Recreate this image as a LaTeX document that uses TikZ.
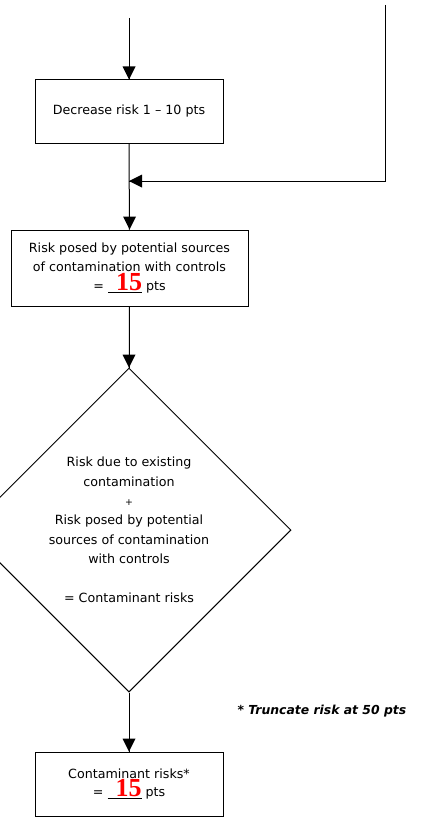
\documentclass[tikz,border=0pt]{standalone}
\usepackage{fontspec}
\setmainfont{DejaVu Sans}
\newfontfamily\numfont{Liberation Serif}
\usetikzlibrary{shapes.geometric}

\tikzset{every picture/.style={line width=0.75pt}}
\tikzset{
  stepbox/.style={draw, rectangle, inner sep=0pt, align=center, font=\fontsize{9.5}{14}\selectfont},
  decision/.style={draw, diamond, inner sep=0pt, minimum width=243pt, minimum height=243pt, align=center, font=\fontsize{9.5}{14.6}\selectfont},
  note/.style={anchor=west, inner sep=0.75pt, font=\fontsize{9.3}{11}\selectfont\bfseries\itshape}
}
\newcommand{\ptsval}{= \underline{\makebox[25.5pt][r]{\smash{\textcolor{red}{\numfont\bfseries\fontsize{19.5}{19.5}\selectfont 15}}}} pts}

\begin{document}
\begin{tikzpicture}[x=0.75pt,y=0.75pt,yscale=-1,xscale=1]
\useasboundingbox (0,0) rectangle (423,817);

%Shape: Rectangle
\node [stepbox, minimum width=141pt, minimum height=47.25pt] (dec) at (129,111.5) {Decrease risk 1 -- 10 pts};
%Shape: Rectangle
\node [stepbox, minimum width=177.75pt, minimum height=57pt] (risk) at (129.5,268) {Risk posed by potential sources\\of contamination with controls\\\ptsval};
%Shape: Diamond
\node [decision] (mix) at (129,530) {Risk due to existing\\contamination\\{\fontsize{7}{14.6}\selectfont +}\\Risk posed by potential\\sources of contamination\\with controls\\\mbox{}\\= Contaminant risks};
%Shape: Rectangle
\node [stepbox, minimum width=141pt, minimum height=48pt] (total) at (129,784) {Contaminant risks*\\\ptsval};

\coordinate (start) at (129,18);
\coordinate (side) at (385,5);
\coordinate (join) at (129,181);

%Straight Lines
\draw    (start) -- (dec) ;
\draw [shift={(dec.north)}, rotate = 270] [fill=black][line width=0.08]  [draw opacity=0] (13,-6.5) -- (0,0) -- (13,6.5) -- cycle    ;
%Straight Lines
\draw    (dec) -- (risk) ;
\draw [shift={(risk.north)}, rotate = 270] [fill=black][line width=0.08]  [draw opacity=0] (13,-6.5) -- (0,0) -- (13,6.5) -- cycle    ;
%Straight Lines
\draw    (side) |- (join) ;
\draw [shift={(join)}, rotate = 0] [fill=black][line width=0.08]  [draw opacity=0] (13,-6.5) -- (0,0) -- (13,6.5) -- cycle    ;
%Straight Lines
\draw    (risk) -- (mix) ;
\draw [shift={(mix.north)}, rotate = 270] [fill=black][line width=0.08]  [draw opacity=0] (13,-6.5) -- (0,0) -- (13,6.5) -- cycle    ;
%Straight Lines
\draw    (mix) -- (total) ;
\draw [shift={(total.north)}, rotate = 270] [fill=black][line width=0.08]  [draw opacity=0] (13,-6.5) -- (0,0) -- (13,6.5) -- cycle    ;

% Text Node
\node [note] (trunc) at (236,711) {* Truncate risk at 50 pts};

\end{tikzpicture}
\end{document}
